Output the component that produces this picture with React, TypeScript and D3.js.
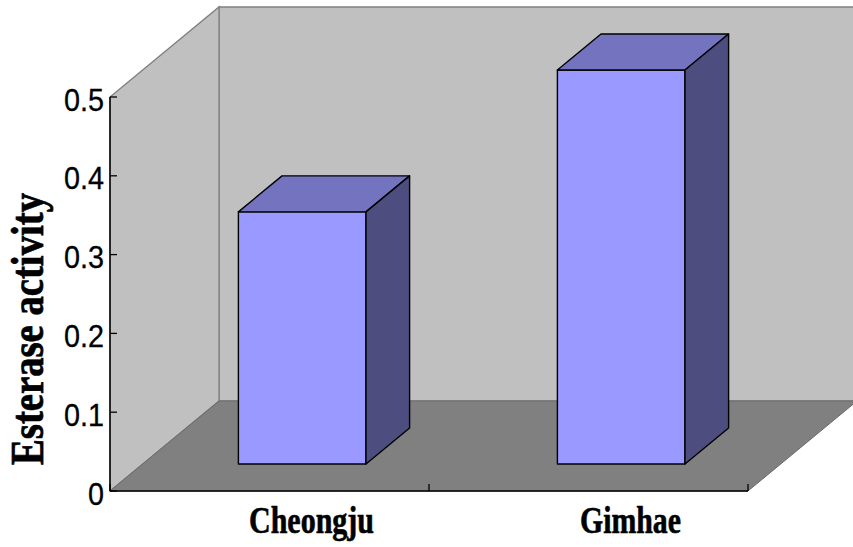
import React from "react";
import * as d3 from "d3";

// Chart data
const categories: string[] = ["Cheongju", "Gimhae"];
const esteraseValues: number[] = [0.32, 0.5];
const yTicks: number[] = [0, 0.1, 0.2, 0.3, 0.4, 0.5];
const yTickLabels: string[] = ["0", "0.1", "0.2", "0.3", "0.4", "0.5"];
const yTitle = "Esterase activity";

const W = 853;
const H = 547;

// Oblique 3D frame: front plane plus a depth offset
const X0 = 110;
const X1 = 748;
const DEPTH_DX = 109;
const DEPTH_DY = 90;
const BAR_FRONT = 0.3; // depth fraction of the bar's front face
const BAR_BACK = 0.7; // depth fraction of the bar's back face
const BAR_WIDTH_RATIO = 0.4;

const labelWidths: Record<string, number> = { Cheongju: 125, Gimhae: 101 };

export default function App() {
  const y = d3.scaleLinear().domain([0, 0.5]).range([491, 97]);
  const x = d3.scaleBand<string>().domain(categories).range([X0, X1]).padding(0);
  const bw = x.bandwidth();
  const barW = bw * BAR_WIDTH_RATIO;

  // project a point (front x, value, depth fraction) onto the page
  const P = (px: number, v: number, d: number): [number, number] => [
    px + d * DEPTH_DX,
    y(v) - d * DEPTH_DY,
  ];
  const pts = (arr: [number, number][]) => arr.map((p) => p.join(",")).join(" ");

  const yTop = y(0.5);
  const yBase = y(0);

  const backWall: [number, number][] = [
    P(X0, 0.5, 1),
    P(X1 + 20, 0.5, 1),
    P(X1 + 20, 0, 1),
    P(X0, 0, 1),
  ];
  const leftWall: [number, number][] = [P(X0, 0.5, 0), P(X0, 0.5, 1), P(X0, 0, 1), P(X0, 0, 0)];
  const floor: [number, number][] = [P(X0, 0, 0), P(X0, 0, 1), P(X1, 0, 1), P(X1, 0, 0)];

  // narrowed sans digits: ~0.5em per character at 32px
  const tickLen = (s: string) => (s.length === 1 ? 16 : 40);

  return (
    <div style={{ position: "fixed", left: 0, top: 0 }}>
      <svg width={W} height={H} viewBox={`0 0 ${W} ${H}`} style={{ display: "block", background: "#ffffff" }}>
        {/* walls and floor */}
        <polygon points={pts(backWall)} fill="#c0c0c0" stroke="#808080" strokeWidth={1.3} />
        <polygon points={pts(leftWall)} fill="#c0c0c0" stroke="#808080" strokeWidth={1.3} />
        <polygon points={pts(floor)} fill="#808080" stroke="#6a6a6a" strokeWidth={1} />

        {/* bars */}
        {categories.map((c, i) => {
          const v = esteraseValues[i];
          const xl = (x(c) as number) + (bw - barW) / 2;
          const xr = xl + barW;
          const front = [P(xl, v, BAR_FRONT), P(xr, v, BAR_FRONT), P(xr, 0, BAR_FRONT), P(xl, 0, BAR_FRONT)] as [number, number][];
          const top = [P(xl, v, BAR_FRONT), P(xl, v, BAR_BACK), P(xr, v, BAR_BACK), P(xr, v, BAR_FRONT)] as [number, number][];
          const side = [P(xr, v, BAR_FRONT), P(xr, v, BAR_BACK), P(xr, 0, BAR_BACK), P(xr, 0, BAR_FRONT)] as [number, number][];
          return (
            <g key={c} stroke="#000" strokeWidth={1.4} strokeLinejoin="round">
              <polygon points={pts(front)} fill="#9999ff" />
              <polygon points={pts(top)} fill="#7373bf" />
              <polygon points={pts(side)} fill="#4d4d80" />
            </g>
          );
        })}

        {/* value axis */}
        <line x1={X0} x2={X0} y1={yTop} y2={yBase} stroke="#000" strokeWidth={1.5} />
        {yTicks.map((t, i) => (
          <g key={t}>
            <line x1={X0} x2={X0 + 7} y1={y(t)} y2={y(t)} stroke="#000" strokeWidth={1.3} />
            <text
              x={104}
              y={y(t) + 13.5}
              textAnchor="end"
              fontFamily="'Liberation Sans', Arial, sans-serif"
              fontSize={32}
              textLength={tickLen(yTickLabels[i])}
              lengthAdjust="spacingAndGlyphs"
              fill="#000"
              stroke="#000"
              strokeWidth={0.3}
            >
              {yTickLabels[i]}
            </text>
          </g>
        ))}

        {/* category axis */}
        <line x1={X0} x2={X1} y1={yBase} y2={yBase} stroke="#000" strokeWidth={1.5} />
        {[X0, ...categories.map((c) => (x(c) as number) + bw)].map((px, i) => (
          <line key={i} x1={px} x2={px} y1={yBase} y2={yBase - 7} stroke="#000" strokeWidth={1.3} />
        ))}
        {categories.map((c) => (
          <text
            key={c}
            x={(x(c) as number) + bw / 2 + 42}
            y={533}
            textAnchor="middle"
            fontFamily="'Liberation Serif', 'Times New Roman', serif"
            fontWeight="bold"
            fontSize={37}
            textLength={labelWidths[c]}
            lengthAdjust="spacingAndGlyphs"
            fill="#000"
            stroke="#000"
            strokeWidth={0.6}
          >
            {c}
          </text>
        ))}

        {/* value axis title */}
        <text
          transform={`translate(43, 329) rotate(-90)`}
          textAnchor="middle"
          fontFamily="'Liberation Serif', 'Times New Roman', serif"
          fontWeight="bold"
          fontSize={46}
          textLength={272}
          lengthAdjust="spacingAndGlyphs"
          fill="#000"
          stroke="#000"
          strokeWidth={0.7}
        >
          {yTitle}
        </text>
      </svg>
    </div>
  );
}
